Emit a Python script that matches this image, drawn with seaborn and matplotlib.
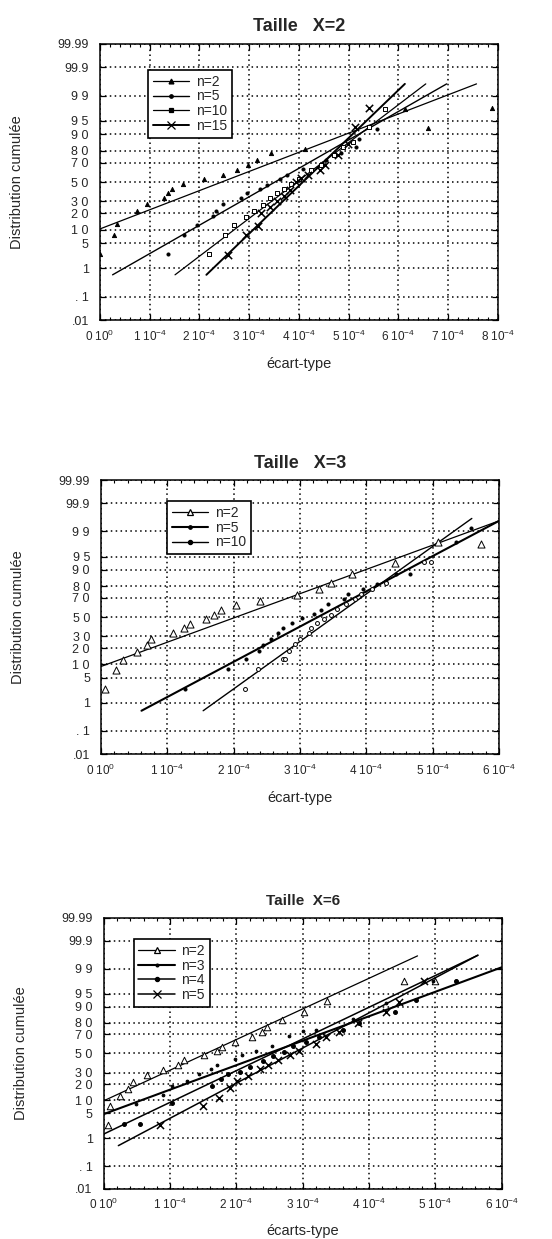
import math
from statistics import NormalDist
import numpy as np
import pandas as pd
import matplotlib
matplotlib.use("Agg")
import matplotlib.pyplot as plt
from matplotlib.lines import Line2D
from matplotlib.ticker import AutoMinorLocator
import seaborn as sns

# valeurs, x en unites de 1e-4, distribution en %

# Taille X=2
t2_n2_x = [0.0, 0.29, 0.34, 0.74, 0.94, 1.29, 1.36, 1.44, 1.68, 2.09, 2.47, 2.76, 2.98, 3.15, 3.43, 4.12, 6.13, 6.59, 7.89]
t2_n2_p = [2.6, 7.5, 13, 21.5, 28, 33, 38, 43, 48, 53, 57.5, 63, 68, 72.5, 78, 81.5, 97.6, 92.8, 97.7]
t2_n5_x = [1.36, 1.69, 1.95, 2.28, 2.33, 2.47, 2.83, 2.96, 3.22, 3.36, 3.61, 3.77, 4.08, 4.55, 4.85, 5.15, 5.21, 5.57]
t2_n5_p = [2.6, 7.5, 12.5, 18, 22, 28, 33, 38, 43, 47, 53, 57, 64, 72, 78, 82.6, 87.4, 92.4]
t2_n10_x = [2.20, 2.52, 2.69, 2.93, 3.10, 3.28, 3.42, 3.55, 3.70, 3.85, 4.00, 4.25, 4.45, 4.70, 4.89, 5.09, 5.40, 5.73]
t2_n10_p = [2.6, 7.8, 12.5, 17.5, 22, 27, 33, 38, 43, 48, 53, 62.5, 68, 77, 83, 86, 93, 97.6]
t2_n15_x = [2.58, 2.93, 3.18, 3.24, 3.42, 3.55, 3.70, 3.82, 3.95, 4.05, 4.19, 4.42, 4.52, 4.79, 4.99, 5.13, 5.41]
t2_n15_p = [2.5, 7.5, 12, 20, 25, 30, 35, 42, 50, 54, 57, 63, 68, 77, 85, 93, 97.7]
# droites d'ajustement (debut, fin)
t2_fit_x = {"n=2": [0.0, 7.57], "n=5": [0.255, 6.97], "n=10": [1.51, 6.55], "n=15": [2.14, 6.13]}
t2_fit_p = {"n=2": [10.3, 99.59], "n=5": [0.62, 99.59], "n=10": [0.62, 99.59], "n=15": [0.62, 99.59]}

# Taille X=3
t3_n2_x = [0.06, 0.22, 0.33, 0.55, 0.70, 0.75, 1.08, 1.25, 1.34, 1.58, 1.71, 1.81, 2.04, 2.40, 2.95, 3.29, 3.46, 3.78, 4.43, 5.08, 5.73]
t3_n2_p = [2.6, 7.7, 12, 17.5, 22.6, 27.4, 33, 38, 43, 47.5, 52, 57.5, 62.7, 67, 73, 78, 82.4, 87.7, 92.8, 97.9, 97.6]
t3_n5_x = [1.26, 1.91, 2.18, 2.38, 2.44, 2.56, 2.67, 2.75, 2.88, 3.03, 3.21, 3.31, 3.42, 3.66, 3.73, 3.95, 4.16, 4.29, 4.45, 4.66, 5.35, 5.58]
t3_n5_p = [2.6, 8, 12.7, 18, 22.6, 27.4, 33.7, 38, 43.5, 49, 53, 58, 64, 69, 73.6, 78, 81.5, 83, 88, 88, 97.9, 99.2]
t3_n10_x = [2.17, 2.37, 2.74, 2.78, 2.83, 2.93, 3.00, 3.14, 3.17, 3.26, 3.36, 3.46, 3.56, 3.70, 3.83, 3.92, 4.09, 4.29, 4.87, 4.97]
t3_n10_p = [2.6, 8, 12.7, 12.9, 18, 23, 28, 33.7, 38, 44, 48, 52.5, 58.7, 64, 69, 73.6, 78, 82.4, 93.3, 93.3]
t3_fit_x = {"n=2": [0.0, 6.0], "n=5": [0.61, 6.0], "n=10": [1.54, 5.59]}
t3_fit_p = {"n=2": [9.0, 99.55], "n=5": [0.55, 99.55], "n=10": [0.55, 99.63]}

# Taille X=6
t6_n2_x = [0.06, 0.10, 0.25, 0.36, 0.44, 0.65, 0.89, 1.12, 1.21, 1.51, 1.70, 1.78, 1.98, 2.23, 2.38, 2.46, 2.69, 3.02, 3.37, 4.52, 4.99]
t6_n2_p = [2.5, 7.5, 11.9, 16.8, 21.7, 27.4, 32.5, 37.5, 43, 48, 52.5, 57, 62.5, 67, 72.6, 77, 82, 87.3, 92.6, 97.6, 97.7]
t6_n3_x = [0.49, 0.90, 1.03, 1.26, 1.43, 1.61, 1.70, 1.98, 2.09, 2.29, 2.53, 2.79, 3.00, 3.20, 3.76, 4.26, 4.96, 5.31]
t6_n3_p = [8.2, 12.6, 18.7, 22.6, 29, 33.8, 38, 43.5, 48, 53, 58, 68, 73, 74, 83, 91.5, 97.7, 97.7]
t6_n4_x = [0.30, 0.54, 1.03, 1.63, 1.77, 1.87, 2.05, 2.20, 2.40, 2.55, 2.72, 2.85, 3.05, 3.25, 3.60, 3.85, 4.39, 4.71, 5.31]
t6_n4_p = [2.6, 2.7, 8.5, 18.7, 24, 28.4, 31, 36, 42, 47, 52, 58, 62, 67, 74, 80, 87.5, 92.8, 97.7]
t6_n5_x = [0.85, 1.50, 1.74, 1.90, 2.01, 2.17, 2.35, 2.48, 2.62, 2.80, 2.95, 3.20, 3.35, 3.55, 3.83, 4.26, 4.45, 4.83]
t6_n5_p = [2.5, 7.5, 11.3, 17.4, 22.6, 27, 33, 38, 43, 48, 53, 60, 67, 72, 80, 87.5, 92, 97.7]
t6_fit_x = {"n=2": [0.0, 4.73], "n=3": [0.0, 6.0], "n=4": [0.0, 5.64], "n=5": [0.22, 5.64]}
t6_fit_p = {"n=2": [9.7, 99.63], "n=3": [4.8, 99.1], "n=4": [1.35, 99.65], "n=5": [0.57, 99.65]}

y_ticks = [0.01, 0.1, 1, 5, 10, 20, 30, 50, 70, 80, 90, 95, 99, 99.9, 99.99]
y_labels = [".01", ". 1", "1", "5", "1 0", "2 0", "3 0", "5 0", "7 0", "8 0", "9 0", "9 5", "9 9", "99.9", "99.99"]

_nd = NormalDist()


def probit(p):
    p = np.asarray(p, dtype=float)
    out = np.full(p.shape, np.nan)
    flat = p.ravel()
    res = out.ravel()
    for i, v in enumerate(flat):
        if np.isfinite(v):
            q = min(max(v / 100.0, 1e-9), 1 - 1e-9)
            res[i] = _nd.inv_cdf(q)
    return res.reshape(p.shape)


_erf = np.vectorize(math.erf)


def inv_probit(z):
    z = np.asarray(z, dtype=float)
    return 50.0 * (1.0 + _erf(z / math.sqrt(2.0)))


sns.set_style("ticks")
plt.rcParams["font.family"] = ["Liberation Sans", "DejaVu Sans"]
plt.rcParams["mathtext.fontset"] = "custom"
plt.rcParams["mathtext.rm"] = "Liberation Sans"
plt.rcParams["mathtext.default"] = "regular"

fig = plt.figure(figsize=(5.52, 12.39), dpi=100)


def draw_panel(rect, title, title_size, xmax, series, fits_x, fits_p, styles, leg_anchor, xlabel, xlabelpad=10):
    ax = fig.add_axes(rect)
    ax.set_yscale("function", functions=(probit, inv_probit))

    for name, xs, ps in series:
        st = styles[name]
        df = pd.DataFrame({"ecart": xs, "dist": ps})
        kw = dict(marker=st["marker"], s=st["s"], ax=ax, zorder=3, legend=False)
        if st["marker"] == "x":
            kw.update(color="black", linewidth=1.1)
        else:
            kw.update(facecolor=st["mfc"], edgecolor="black", linewidth=0.7)
        sns.scatterplot(data=df, x="ecart", y="dist", **kw)

    for name in fits_x:
        st = styles[name]
        fdf = pd.DataFrame({"ecart": fits_x[name], "dist": fits_p[name]})
        sns.lineplot(data=fdf, x="ecart", y="dist", ax=ax, color="black",
                     linewidth=st["lw"], estimator=None, sort=False, zorder=2)

    ax.set_xlim(0, xmax)
    ax.set_ylim(0.01, 99.99)
    ax.set_xticks(range(0, xmax + 1))
    ax.set_xticklabels(["0 $10^{0}$"] + [f"{k} $10^{{-4}}$" for k in range(1, xmax + 1)], fontsize=8.5)
    ax.xaxis.set_minor_locator(AutoMinorLocator(5))
    ax.set_yticks(y_ticks)
    ax.set_yticklabels(y_labels, fontsize=9)
    ax.yaxis.set_minor_locator(matplotlib.ticker.NullLocator())
    ax.tick_params(which="both", direction="in", top=True, right=True, color="black")
    ax.tick_params(which="major", length=4, width=0.9)
    ax.tick_params(axis="y", which="major", pad=8)
    ax.tick_params(axis="x", which="major", pad=6)
    ax.tick_params(which="minor", length=2.5, width=0.8)
    ax.grid(True, which="major", color="black", linestyle=(0, (1, 2.2)), linewidth=1.1)
    for sp in ax.spines.values():
        sp.set_visible(True)
        sp.set_linewidth(1.1)
        sp.set_color("black")

    ax.set_title(title, fontsize=title_size, fontweight="bold", pad=9)
    ax.set_xlabel(xlabel, fontsize=10.5, labelpad=xlabelpad)
    ax.set_ylabel("Distribution cumulée", fontsize=10.5)
    ax.yaxis.set_label_coords(-0.19, 0.5)

    handles = []
    for name, _, _ in series:
        st = styles[name]
        handles.append(Line2D([], [], color="black", lw=st["lw"], marker=st["marker"],
                              markersize=st["ms"], markerfacecolor=st["lmfc"],
                              markeredgecolor="black", markeredgewidth=0.9, label=name))
    leg = ax.legend(handles=handles, loc="upper left", bbox_to_anchor=leg_anchor,
                    borderaxespad=0, fontsize=10, frameon=True, fancybox=False,
                    handlelength=2.6, handletextpad=0.5, labelspacing=0.05,
                    borderpad=0.35, numpoints=1)
    leg.get_frame().set_edgecolor("black")
    leg.get_frame().set_linewidth(1.2)
    leg.get_frame().set_alpha(1)
    return ax


styles2 = {
    "n=2": dict(marker="^", s=9, mfc="black", lw=0.9, ms=3.5, lmfc="black"),
    "n=5": dict(marker="o", s=5, mfc="black", lw=1.0, ms=2.5, lmfc="black"),
    "n=10": dict(marker="s", s=8, mfc="white", lw=0.9, ms=3, lmfc="black"),
    "n=15": dict(marker="x", s=28, mfc="black", lw=1.4, ms=6, lmfc="black"),
}
draw_panel([0.181, 0.7417, 0.721, 0.2228], "Taille   X=2", 13, 8,
           [("n=2", t2_n2_x, t2_n2_p), ("n=5", t2_n5_x, t2_n5_p),
            ("n=10", t2_n10_x, t2_n10_p), ("n=15", t2_n15_x, t2_n15_p)],
           t2_fit_x, t2_fit_p, styles2, (0.12, 0.906), "écart-type")

styles3 = {
    "n=2": dict(marker="^", s=26, mfc="white", lw=0.9, ms=5, lmfc="white"),
    "n=5": dict(marker="o", s=5, mfc="black", lw=1.5, ms=2.5, lmfc="black"),
    "n=10": dict(marker="o", s=8, mfc="white", lw=1.0, ms=3, lmfc="black"),
}
draw_panel([0.183, 0.3914, 0.721, 0.2211], "Taille   X=3", 13, 6,
           [("n=2", t3_n2_x, t3_n2_p), ("n=5", t3_n5_x, t3_n5_p),
            ("n=10", t3_n10_x, t3_n10_p)],
           t3_fit_x, t3_fit_p, styles3, (0.166, 0.923), "écart-type")

styles6 = {
    "n=2": dict(marker="^", s=22, mfc="white", lw=0.9, ms=5, lmfc="white"),
    "n=3": dict(marker="o", s=4, mfc="black", lw=1.5, ms=2, lmfc="black"),
    "n=4": dict(marker="o", s=8, mfc="black", lw=1.1, ms=3, lmfc="black"),
    "n=5": dict(marker="x", s=26, mfc="black", lw=1.1, ms=6, lmfc="black"),
}
draw_panel([0.188, 0.0404, 0.721, 0.2187], "Taille  X=6", 11, 6,
           [("n=2", t6_n2_x, t6_n2_p), ("n=3", t6_n3_x, t6_n3_p),
            ("n=4", t6_n4_x, t6_n4_p), ("n=5", t6_n5_x, t6_n5_p)],
           t6_fit_x, t6_fit_p, styles6, (0.075, 0.922), "écarts-type", xlabelpad=8)

fig.savefig("out.png", dpi=100)
